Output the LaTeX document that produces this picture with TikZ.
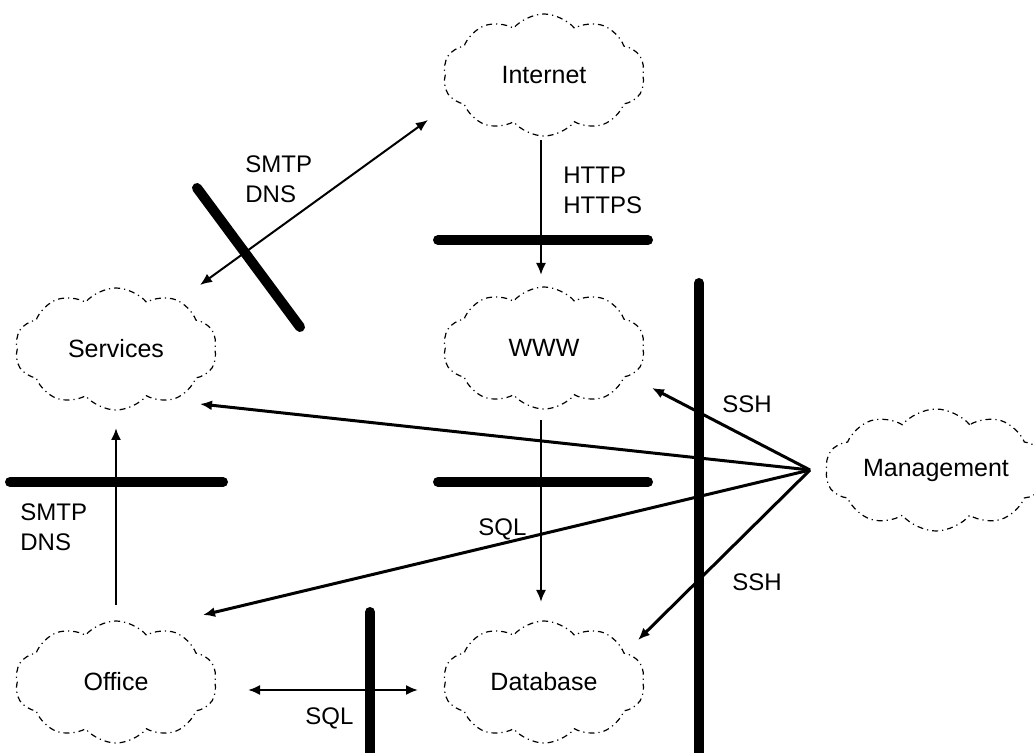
\documentclass[tikz,border=0pt]{standalone}
\usepackage{fontspec}
\setmainfont{Liberation Sans}
\usepackage{tikz}
\usetikzlibrary{shapes,shapes.symbols,arrows.meta,positioning,calc}

\begin{document}
\begin{tikzpicture}[x=0.5pt,y=-0.5pt,
    >={Latex[length=6pt,width=5pt]},
    net/.style={cloud,cloud puffs=10,cloud puff arc=100,cloud ignores aspect,
        minimum width=101pt,minimum height=61pt,draw,line width=0.6pt,
        dash pattern=on 3pt off 2pt on 0.6pt off 2pt,
        font=\fontsize{12.5}{15}\selectfont},
    fwall/.style={line width=5pt,line cap=round},
    link/.style={line width=1pt},
    mlink/.style={line width=1.5pt},
    proto/.style={inner sep=0pt,anchor=north west,align=left,
        font=\fontsize{12}{15}\selectfont}]
\useasboundingbox (0,0) rectangle (1034,753);
% Clouds
\node[net] (inet) at (544,75) {Internet};
\node[net] (svc) at (116,349) {Services};
\node[net] (www) at (544,348) {WWW};
\node[net] (mgmt) at (936,470) {Management};
\node[net] (office) at (116,682) {Office};
\node[net] (db) at (544,682) {Database};
\coordinate (hub) at ($(mgmt)+(-126,0)$);
% Firewalls
\draw[fwall] (438,240) -- (648,240);
\draw[fwall] (197,188) -- (300,327);
\draw[fwall] (699,283) -- (699,753);
\draw[fwall] (10,482) -- (223,482);
\draw[fwall] (438,482) -- (648,482);
\draw[fwall] (370,612) -- (370,753);
% Connections
\draw[link,<->] ($(inet)+(-116,45)$) -- ($(svc)+(84,-64)$);
\draw[link,->] ($(inet)+(-3,65)$) -- ($(www)+(-3,-73)$);
\draw[link,->] ($(www)+(-3,72)$) -- ($(db)+(-3,-80)$);
\draw[link,->] ($(office)+(0,-77)$) -- ($(svc)+(0,79)$);
\draw[link,<->] ($(office)+(132,8)$) -- ($(db)+(-126,8)$);
\draw[mlink,->] (hub) -- ($(www)+(108,40)$);
\draw[mlink,->] (hub) -- ($(svc)+(84,55)$);
\draw[mlink,->] (hub) -- ($(office)+(87,-67)$);
\draw[mlink,->] (hub) -- ($(db)+(94,-42)$);
% Labels
\node[proto] (smtp1) at (245,155) {SMTP\\DNS};
\node[proto] (http) at (563,167) {HTTP\\HTTPS};
\node[proto] (ssh1) at (722,395) {SSH};
\node[proto] (ssh2) at (732,573) {SSH};
\node[proto] (smtp2) at (20,503) {SMTP\\DNS};
\node[proto] (sql1) at (478,518) {SQL};
\node[proto] (sql2) at (305,707) {SQL};
\end{tikzpicture}
\end{document}
